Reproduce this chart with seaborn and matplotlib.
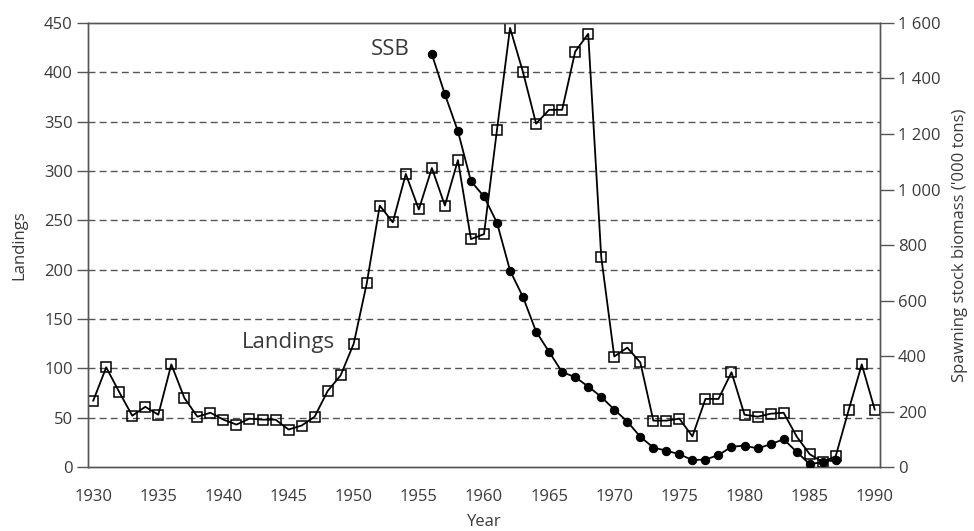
import matplotlib
matplotlib.use("Agg")
import matplotlib.pyplot as plt
import seaborn as sns
import pandas as pd
from matplotlib.ticker import MultipleLocator

years_landings = list(range(1930, 1991))
landings = [67, 101, 76, 52, 61, 53, 104, 70, 51, 55,
            48, 43, 49, 48, 48, 38, 42, 51, 77, 93,
            125, 186, 265, 248, 297, 261, 303, 265, 311, 231,
            236, 342, 445, 400, 348, 362, 362, 421, 439, 213,
            112, 121, 106, 47, 47, 49, 31, 69, 69, 96,
            53, 51, 54, 55, 31, 13, 5, 11, 58, 104,
            58]
years_ssb = list(range(1956, 1988))
ssb = [1487, 1343, 1210, 1030, 975, 880, 708, 612, 488, 415,
       342, 324, 290, 253, 207, 164, 109, 70, 59, 46,
       25, 27, 43, 73, 77, 67, 82, 100, 55, 10,
       18, 27]
left_ticks = [0, 50, 100, 150, 200, 250, 300, 350, 400, 450]
right_ticks = [0, 200, 400, 600, 800, 1000, 1200, 1400, 1600]
right_labels = ["0", "200", "400", "600", "800", "1 000", "1 200", "1 400", "1 600"]
x_ticks = [1930, 1935, 1940, 1945, 1950, 1955, 1960, 1965, 1970, 1975, 1980, 1985, 1990]

sns.set_style("white")
plt.rcParams['font.family'] = ['Open Sans', 'DejaVu Sans']
TXT = "#3a3a3a"
SP = "#555555"

df_l = pd.DataFrame({"Year": years_landings, "Landings": landings})
df_s = pd.DataFrame({"Year": years_ssb, "SSB": ssb})

fig = plt.figure(figsize=(9.74, 5.31), dpi=100)
ax = fig.add_axes([0.0903, 0.1205, 0.8132, 0.8362])
ax2 = ax.twinx()

for y in left_ticks[1:-1]:
    ax.axhline(y, color="#555555", lw=1.0, ls=(0, (5, 3)), zorder=0)

sns.lineplot(data=df_l, x="Year", y="Landings", ax=ax, color="black", lw=1.3,
             marker="s", markersize=7.5, markerfacecolor="none", markeredgecolor="black",
             markeredgewidth=1.1, zorder=3)
sns.lineplot(data=df_s, x="Year", y="SSB", ax=ax2, color="black", lw=1.3,
             marker="o", markersize=6, markerfacecolor="black", markeredgecolor="black",
             zorder=3)

ax.set_xlim(1929.6, 1990.4)
ax.set_ylim(0, 450)
ax2.set_ylim(0, 1600)

ax.set_xticks(x_ticks)
ax.xaxis.set_minor_locator(MultipleLocator(1))
ax.set_yticks(left_ticks)
ax2.set_yticks(right_ticks)
ax2.set_yticklabels(right_labels)

for a in (ax, ax2):
    for s in a.spines.values():
        s.set_color(SP)
        s.set_linewidth(1.0)
ax.tick_params(axis="x", which="major", direction="out", length=13, width=1, color=SP,
               labelsize=12, labelcolor=TXT, pad=3)
ax.tick_params(axis="x", which="minor", direction="out", length=7, width=1, color=SP)
ax.tick_params(axis="y", direction="out", length=8, width=1, color=SP, labelsize=12,
               labelcolor=TXT, left=True, pad=3)
ax2.tick_params(axis="y", direction="out", length=10, width=1, color=SP, labelsize=12,
                labelcolor=TXT, right=True, pad=3)

ax.set_xlabel("Year", fontsize=12, color=TXT, labelpad=6)
ax.set_ylabel("Landings", fontsize=12, color=TXT, labelpad=12)
ax2.set_ylabel("Spawning stock biomass ('000 tons)", fontsize=12, color=TXT, labelpad=8)

ax.text(1952.8, 423, "SSB", fontsize=16, color=TXT, ha="center", va="center")
ax.text(1948.6, 126, "Landings", fontsize=16, color=TXT, ha="right", va="center")

ax.grid(False)
ax2.grid(False)
fig.savefig("out.png", dpi=100)
